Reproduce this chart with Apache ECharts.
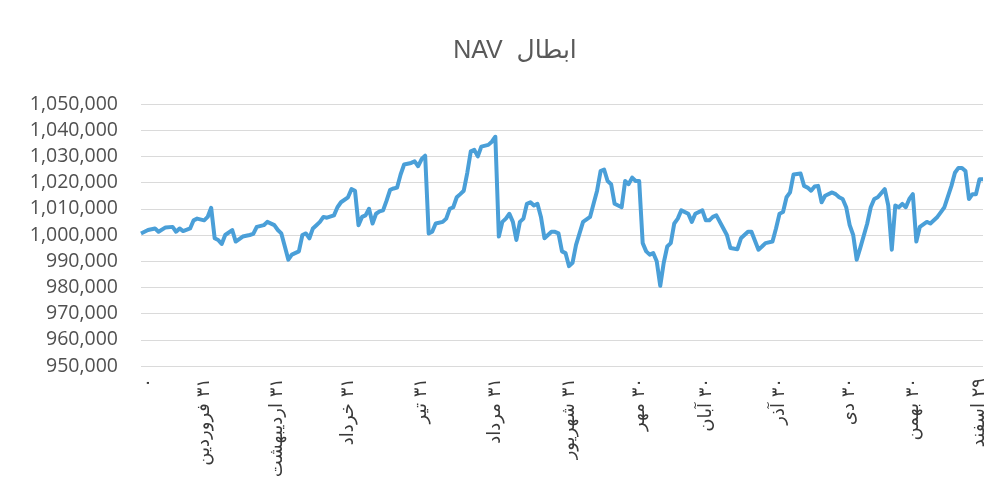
<!DOCTYPE html>
<html>
<head>
<meta charset="utf-8">
<script src="https://cdn.jsdelivr.net/npm/echarts@6/dist/echarts.min.js"></script>
<style>
	html, body { margin: 0; padding: 0; background: #fff; }
	#nav-chart { width: 1002px; height: 504px; }
</style>
</head>
<body>
<div id="nav-chart" dir="rtl"></div>
<script>
// day index on the category axis
var dayIndex = [0, 2, 4, 5, 7, 9, 10, 11, 12, 14, 15, 16, 18, 19, 20, 21, 22, 23, 24, 26, 27, 29, 31, 32, 33, 35, 36, 38, 39, 40,
	41, 42, 43, 45, 46, 47, 48, 49, 50, 51, 52, 53, 55, 56, 57, 59, 60, 61, 62, 63, 64, 65, 66, 67, 68, 69, 70, 71, 72, 73,
	74, 75, 77, 78, 79, 80, 81, 82, 83, 84, 86, 87, 88, 89, 90, 91, 92, 93, 94, 95, 96, 97, 99, 100, 101, 102, 103, 104, 105, 106,
	107, 108, 109, 110, 111, 112, 113, 114, 115, 117, 118, 119, 120, 121, 122, 123, 124, 125, 126, 128, 129, 130, 131, 132, 133, 134, 135, 137, 138, 139,
	140, 141, 142, 143, 144, 145, 146, 147, 148, 149, 150, 151, 152, 153, 154, 156, 157, 158, 160, 161, 162, 163, 164, 166, 167, 168, 170, 171, 172, 173,
	174, 176, 177, 178, 180, 181, 182, 183, 184, 185, 186, 188, 189, 190, 191, 192, 193, 194, 195, 197, 198, 199, 200, 201, 202, 203, 204, 205, 207, 208,
	209, 210, 212, 213, 214, 215, 216, 217, 218, 219, 220, 221, 222, 224, 225, 227, 228, 229, 231, 232, 233, 234, 235, 236, 237, 238, 239, 240];

var navValues = [1000600, 1001900, 1002500, 1001250, 1002900, 1003100, 1001250, 1002500, 1001500, 1002500, 1005600, 1006250, 1005600, 1006900, 1010400, 998750, 998100, 996600, 1000000, 1001900, 997500, 999400, 1000000, 1000400, 1003100, 1003750, 1005000, 1003750, 1001900, 1000600,
	995600, 990600, 992500, 993750, 1000000, 1000600, 998750, 1002500, 1003750, 1005000, 1006900, 1006600, 1007500, 1010600, 1012500, 1014400, 1017500, 1016900, 1003750, 1006900, 1007500, 1010000, 1004400, 1008100, 1009000, 1009400, 1013100, 1017250, 1017750, 1018100,
	1023100, 1026900, 1027500, 1028100, 1026250, 1029000, 1030250, 1000600, 1001250, 1004400, 1005000, 1006250, 1010000, 1010600, 1014400, 1015600, 1016900, 1023750, 1031900, 1032500, 1030000, 1033750, 1034400, 1035600, 1037500, 999400, 1005000, 1006250, 1008100, 1005000,
	998100, 1005000, 1006250, 1011900, 1012500, 1011250, 1011900, 1006900, 998750, 1001250, 1001200, 1000600, 993750, 993100, 988100, 989400, 996250, 1000600, 1005000, 1006900, 1011900, 1016900, 1024400, 1025000, 1020600, 1019400, 1011900, 1010600, 1020600, 1019400,
	1021900, 1020600, 1020600, 996900, 993750, 992500, 993100, 990000, 980600, 989400, 995600, 996900, 1004400, 1006250, 1009400, 1008100, 1005000, 1008100, 1009400, 1005600, 1005600, 1006900, 1007500, 1002500, 1000000, 995000, 994600, 998750, 1000000, 1001250,
	1001250, 994400, 995600, 996900, 997500, 1002500, 1008100, 1008750, 1014400, 1016250, 1023100, 1023500, 1018750, 1018100, 1016900, 1018500, 1018750, 1012500, 1015000, 1016250, 1015600, 1014400, 1013750, 1010600, 1003750, 1000000, 990600, 995000, 1004400, 1010600,
	1013750, 1014400, 1017500, 1011250, 994400, 1011250, 1010600, 1011900, 1010600, 1013750, 1015600, 997500, 1003100, 1005000, 1004400, 1006900, 1008750, 1010600, 1018750, 1023750, 1025600, 1025600, 1024400, 1013750, 1015600, 1015600, 1021250, 1021250];

var dayCount = 241;
var monthLabels = ['۰', '۳۱ فروردین', '۳۱ اردیبهشت', '۳۱ خرداد', '۳۱ تیر', '۳۱ مرداد', '۳۱ شهریور', '۳۰ مهر', '۳۰ آبان', '۳۰ آذر', '۳۰ دی', '۳۰ بهمن', '۲۹ اسفند'];
var monthLabelIndex = [2, 18, 39, 59, 80, 101, 122, 142, 161, 182, 202, 220, 239];

var yMin = 950000;
var yMax = 1050000;
var yStep = 10000;

function BuildCategories() {
	var cats = [];
	for (var i = 0; i < dayCount; i++) {
		cats.push('');
	}
	for (var j = 0; j < monthLabels.length; j++) {
		cats[monthLabelIndex[j]] = monthLabels[j];
	}
	return cats;
}

function BuildSeries() {
	var pts = [];
	for (var i = 0; i < dayIndex.length; i++) {
		pts.push([dayIndex[i], navValues[i]]);
	}
	return pts;
}

function ShowChart() {
	var chart = echarts.init(document.getElementById('nav-chart'), null, { renderer: 'canvas' });
	var option = {
		backgroundColor: '#ffffff',
		animation: false,
		title: {
			text: 'ابطال  NAV',
			left: 510,
			textAlign: 'center',
			top: 34,
			textStyle: {
				fontFamily: 'Liberation Sans, DejaVu Sans, sans-serif',
				fontSize: 25,
				fontWeight: 'normal',
				color: '#595959'
			}
		},
		grid: {
			left: 141,
			right: 19,
			top: 104,
			bottom: 138,
			containLabel: false
		},
		xAxis: {
			type: 'category',
			boundaryGap: false,
			data: BuildCategories(),
			axisLine: { show: false },
			axisTick: { show: false },
			axisLabel: {
				interval: 0,
				rotate: 90,
				margin: 12,
				fontFamily: 'DejaVu Sans, sans-serif',
				fontSize: 18,
				color: '#3a3a3a'
			},
			splitLine: { show: false }
		},
		yAxis: {
			type: 'value',
			min: yMin,
			max: yMax,
			interval: yStep,
			axisLine: { show: false },
			axisTick: { show: false },
			axisLabel: {
				margin: 23,
				fontFamily: 'Open Sans, sans-serif',
				fontSize: 19.5,
				color: '#505050',
				formatter: function(v) {
					return v.toLocaleString('en-US');
				}
			},
			splitLine: {
				lineStyle: { color: '#dadada', width: 1 }
			}
		},
		series: [{
			name: 'NAV',
			type: 'line',
			data: BuildSeries(),
			showSymbol: false,
			symbol: 'none',
			lineStyle: {
				color: '#4a9fd8',
				width: 4,
				join: 'round'
			}
		}]
	};
	chart.setOption(option);
}

ShowChart();
</script>
</body>
</html>
